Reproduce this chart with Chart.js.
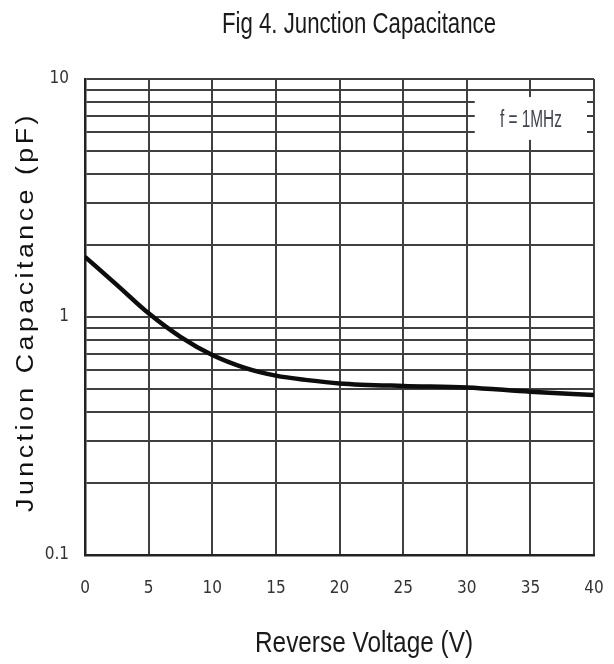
<!DOCTYPE html>
<html>
<head>
<meta charset="utf-8">
<script src="https://cdn.jsdelivr.net/npm/chart.js@4.4.1/dist/chart.umd.min.js"></script>
<style>
  html, body { margin: 0; padding: 0; background: #fff; }
  #wrap { width: 614px; height: 664px; position: relative; }
</style>
</head>
<body>
<div id="wrap"><canvas id="c" width="614" height="664"></canvas></div>
<script>
// ---- data ----
const voltage = [0, 2.5, 5, 7.5, 10, 12.5, 15, 17.5, 20, 25, 30, 35, 40];
const capacitance = [1.79, 1.365, 1.036, 0.825, 0.692, 0.613, 0.567, 0.543, 0.526, 0.513, 0.506, 0.485, 0.47];
const xTicks = [0, 5, 10, 15, 20, 25, 30, 35, 40];
const yLabelled = [0.1, 1, 10];
const yGrid = [0.1,0.2,0.3,0.4,0.5,0.6,0.7,0.8,0.9,1,2,3,4,5,6,7,8,9,10];
const titleText = 'Fig 4. Junction Capacitance';
const xTitle = 'Reverse Voltage (V)';
const yTitle = 'Junction Capacitance (pF)';
const noteText = 'f = 1MHz';

const NARROW = '"DejaVu Sans Condensed", "Liberation Sans", Arial, sans-serif';
const SANS = '"Liberation Sans", Arial, sans-serif';

function fitText(ctx, text, x, y, targetW, font, align) {
  ctx.save();
  ctx.font = font;
  const w = ctx.measureText(text).width;
  const s = targetW / w;
  ctx.translate(x, y);
  ctx.scale(s, 1);
  ctx.textAlign = align || 'center';
  ctx.fillText(text, 0, 0);
  ctx.restore();
}

const decor = {
  id: 'decor',
  beforeDraw(chart) {
    const ctx = chart.ctx;
    ctx.save();
    ctx.fillStyle = '#fff';
    ctx.fillRect(0, 0, chart.width, chart.height);
    ctx.restore();
  },
  afterDraw(chart) {
    const ctx = chart.ctx;
    const xs = chart.scales.x, ys = chart.scales.y;
    // note box
    const bx0 = xs.getPixelForValue(30) + 8, bx1 = xs.getPixelForValue(40) - 7;
    const by0 = ys.getPixelForValue(8.4), by1 = ys.getPixelForValue(5.55);
    ctx.save();
    ctx.fillStyle = '#fff';
    ctx.fillRect(bx0, by0, bx1 - bx0, by1 - by0);
    ctx.fillStyle = '#3f4450';
    ctx.textBaseline = 'alphabetic';
    fitText(ctx, noteText, (bx0 + bx1) / 2, 127, 62, '23px ' + SANS, 'center');
    ctx.restore();

    ctx.save();
    ctx.fillStyle = '#1a1a1a';
    ctx.textBaseline = 'alphabetic';
    fitText(ctx, titleText, 359, 33, 274, '29px ' + SANS, 'center');
    fitText(ctx, xTitle, 364, 652, 218, '30px ' + SANS, 'center');
    // y title
    ctx.translate(33, 312);
    ctx.rotate(-Math.PI / 2);
    ctx.fillStyle = '#111';
    ctx.letterSpacing = '3px';
    fitText(ctx, yTitle, 0, 0, 400, '23px ' + SANS, 'center');
    ctx.restore();
  }
};

new Chart(document.getElementById('c'), {
  type: 'line',
  data: {
    datasets: [{
      data: voltage.map((v, i) => ({ x: v, y: capacitance[i] })),
      borderColor: '#0d0d0d',
      borderWidth: 4.5,
      pointRadius: 0,
      cubicInterpolationMode: 'monotone',
      fill: false
    }]
  },
  options: {
    responsive: false,
    animation: false,
    devicePixelRatio: 1,
    layout: { padding: { top: 79, left: 0, right: 20, bottom: 0 } },
    plugins: { legend: { display: false }, title: { display: false }, tooltip: { enabled: false } },
    scales: {
      x: {
        type: 'linear', min: 0, max: 40,
        afterBuildTicks: s => { s.ticks = xTicks.map(v => ({ value: v })); },
        afterFit: s => { s.height = 109; s.paddingLeft = 0; s.paddingRight = 0; },
        grid: { color: '#404040', lineWidth: 2, drawTicks: false },
        border: { color: '#222', width: 2.5 },
        ticks: { padding: 23, color: '#333', font: { family: NARROW, size: 17 }, maxRotation: 0 }
      },
      y: {
        type: 'logarithmic', min: 0.1, max: 10,
        afterBuildTicks: s => { s.ticks = yGrid.map(v => ({ value: v })); },
        afterFit: s => { s.width = 85; s.paddingTop = 0; s.paddingBottom = 0; },
        grid: { color: '#404040', lineWidth: 2, drawTicks: false },
        border: { color: '#222', width: 2.5 },
        ticks: {
          padding: 16, color: '#333', font: { family: NARROW, size: 17 },
          autoSkip: false,
          callback: v => (yLabelled.some(t => Math.abs(t - v) < 1e-9) ? String(v) : '')
        }
      }
    }
  },
  plugins: [decor]
});
</script>
</body>
</html>
